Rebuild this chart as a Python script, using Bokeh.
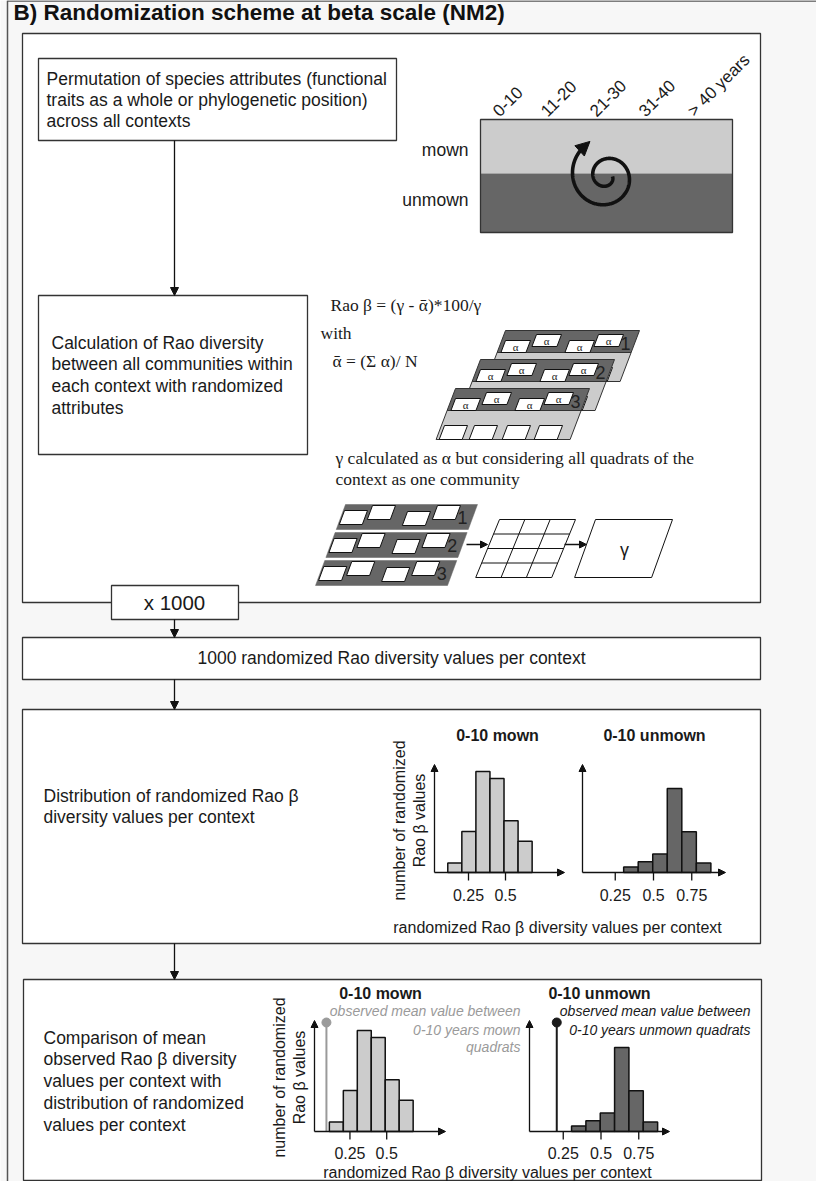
import numpy as np
from bokeh.plotting import figure
from bokeh.models import Range1d, Arrow, NormalHead
from bokeh.embed import file_html
from bokeh.resources import INLINE
from bokeh.core.properties import value

# ---------------- DATA ----------------
age_classes = ["0-10", "11-20", "21-30", "31-40", "> 40 years"]
management = ["mown", "unmown"]
mown_bin_edges = [0.11, 0.205, 0.30, 0.395, 0.49, 0.585, 0.68]
mown_counts = [29, 125, 307, 286, 157, 95]
unmown_bin_edges = [0.305, 0.40, 0.495, 0.59, 0.685, 0.78, 0.875]
unmown_counts = [17, 33, 56, 255, 124, 29]
mown_ticks = [0.25, 0.5]
unmown_ticks = [0.25, 0.5, 0.75]
observed_mean_mown = 0.09
observed_mean_unmown = 0.207
n_randomizations = 1000
sheet_labels = ["1", "2", "3"]

# ---------------- FIGURE ----------------
W, H = 816, 1181
X0, Y0 = 8, 8
BG = "#f7f7f7"
INK = "#1a1a1a"
LIGHT = "#cccccc"
DARK = "#666666"
SANS = "Liberation Sans"
SERIF = "Liberation Serif"
BODY = 17.5

p = figure(width=W, height=H, x_range=Range1d(X0, X0 + W), y_range=Range1d(Y0 + H, Y0),
           output_backend="svg", toolbar_location=None, x_axis_type=None, y_axis_type=None,
           min_border=0, background_fill_color=BG, border_fill_color=BG, outline_line_color=None)
p.grid.visible = False


def t(x, y, s, size=BODY, align="left", baseline="middle", font=SANS, style="normal",
      color=INK, angle=0.0, xr=None, yr=None):
    kw = {}
    if xr:
        kw["x_range_name"] = xr
        kw["y_range_name"] = yr
    xs = x if isinstance(x, list) else [x]
    ys = y if isinstance(y, list) else [y]
    ss = s if isinstance(s, list) else [s]
    p.text(x=xs, y=ys, text=ss, text_font=value(font), text_font_size=f"{size}px",
           text_align=align, text_baseline=baseline, text_font_style=style,
           text_color=color, angle=angle, **kw)


def box(l, r, tp, b, fill="white", lc="#333333", lw=1.3):
    p.quad(left=[l], right=[r], top=[tp], bottom=[b], fill_color=fill, line_color=lc, line_width=lw)


def arrow(x0, y0, x1, y1, size=8, lw=1.3, color="#111111"):
    p.add_layout(Arrow(end=NormalHead(size=size, fill_color=color, line_color=color, line_width=1),
                       x_start=x0, y_start=y0, x_end=x1, y_end=y1,
                       line_color=color, line_width=lw))


def para(xl, yt, w, h, s):
    return [xl, xl + w, xl + w - s * h, xl - s * h], [yt, yt, yt + h, yt + h]


def patch(xy, fill, lc="#222222", lw=1.0):
    p.patch(xy[0], xy[1], fill_color=fill, line_color=lc, line_width=lw)


# outer frame
p.segment(x0=[15], y0=[8.5], x1=[832], y1=[8.5], line_color="#555555", line_width=1.5)
p.segment(x0=[15], y0=[8], x1=[15], y1=[1189], line_color="#555555", line_width=1.5)

# title
t(21, 20, "B) Randomization scheme at beta scale (NM2)", size=22.5, style="bold", color="#111111")

# ---------------- BOX 1 ----------------
box(30, 768, 41, 610)
box(46, 404, 66, 148)
for i, line in enumerate(["Permutation of species attributes (functional",
                          "traits as a whole or phylogenetic position)",
                          "across all contexts"]):
    t(54, 86 + 21 * i, line)
arrow(182, 148, 182, 303)
box(46, 315, 303, 462)
for i, line in enumerate(["Calculation of Rao diversity",
                          "between all communities within",
                          "each context with randomized",
                          "attributes"]):
    t(59, 350 + 21.7 * i, line)

# context rectangle
p.quad(left=[488], right=[740], top=[127], bottom=[181], fill_color=LIGHT, line_color=None)
p.quad(left=[488], right=[740], top=[181], bottom=[240], fill_color=DARK, line_color=None)
p.quad(left=[488], right=[740], top=[127], bottom=[240], fill_color=None, line_color="#333333", line_width=1.3)
t(476, 157, management[0], align="right")
t(476, 207, management[1], align="right")
col_x = [503, 551, 600, 649, 698]
for cx, lab in zip(col_x, age_classes):
    t(cx, 121, lab, size=17, baseline="alphabetic", angle=np.pi / 4)

# spiral
phi = np.linspace(0, 10.45, 400)
rr = 6 + 2.1 * phi + 0.09 * phi ** 2
sx = 614 + rr * np.cos(phi)
sy = 184 + rr * np.sin(phi)
p.line(sx, sy, line_color="#111111", line_width=3.6)
arrow(sx[-8], sy[-8], sx[-1] + (sx[-1] - sx[-8]) * 0.6, sy[-1] + (sy[-1] - sy[-8]) * 0.6,
      size=14, lw=3.6)

# formulas
t(338, 312, "Rao \u03b2 = (\u03b3 - \u1fb1)*100/\u03b3", font=SERIF, size=17.5)
t(328, 340, "with", font=SERIF, size=17.5)
t(340, 368, "\u1fb1 = (\u03a3 \u03b1)/ N", font=SERIF, size=17.5)

# stacked sheets
S = 0.38
SW, HD, HL = 134, 22, 29
sheet_tl = [(513, 338), (488, 367), (463, 396)]
alpha_q = [(0, 10), (31, 4), (64, 10), (93, 4)]
bottom_q = [(-11, 37), (19, 37), (52, 37), (84, 37)]
for i, (x0, y0) in enumerate(sheet_tl):
    patch(para(x0 - S * HD, y0 + HD, SW, HL, S), LIGHT, "#333333", 1.0)
    patch(para(x0, y0, SW, HD, S), DARK, "#333333", 1.0)
    for (xl, yt) in alpha_q:
        patch(para(x0 + xl, y0 + yt, 25, 12, S), "white", "#111111", 1.0)
        t(x0 + xl + 12.5 - S * 6, y0 + yt + 6.5, "\u03b1", size=11, align="center", font=SERIF)
    for (xl, yt) in bottom_q:
        patch(para(x0 + xl, y0 + yt, 23, 14, S), "white", "#111111", 1.0)
    t(x0 + 120, y0 + 13, sheet_labels[i], size=18, align="center", color="#222222")

t(343, 465, "\u03b3 calculated as \u03b1 but considering all quadrats of the", font=SERIF, size=17.5)
t(343, 486, "context as one community", font=SERIF, size=17.5)

# gamma diagram
S2 = 0.37
strip_tl = [(353, 512), (353 - S2 * 28, 540), (353 - S2 * 56, 568)]
strip_q = [(-1, 6), (27, 1), (62, 7), (92, 1)]
for i, (x0, y0) in enumerate(strip_tl):
    patch(para(x0, y0, 132, 25, S2), DARK, DARK, 0.5)
    for (xl, yt) in strip_q:
        patch(para(x0 + xl, y0 + yt, 23, 14, S2), "white", "#111111", 1.0)
    t(x0 + 117, y0 + 13, sheet_labels[i], size=18, align="center", color="#222222")
arrow(474, 552, 495, 552, size=7, lw=1.6)
# grid
GS = 0.41
gx, gy, gw, gh = 507, 527, 76, 58
patch(para(gx, gy, gw, gh, GS), "white", "#111111", 1.0)
for k in range(1, 4):
    yy = gy + k * gh / 4
    p.segment(x0=[gx - GS * (yy - gy)], y0=[yy], x1=[gx + gw - GS * (yy - gy)], y1=[yy],
              line_color="#111111", line_width=1.0)
for j in range(1, 3):
    xx = gx + j * gw / 3
    p.segment(x0=[xx], y0=[gy], x1=[xx - GS * gh], y1=[gy + gh], line_color="#111111", line_width=1.0)
arrow(572, 552, 594, 552, size=7, lw=1.6)
patch(para(603, 527, 77, 58, 0.36), "white", "#111111", 1.0)
t(632, 557, "\u03b3", size=18, align="center")

# x 1000 box
box(119, 246, 593, 627)
t(182, 610, f"x {n_randomizations}", size=20.5, align="center")
arrow(182, 627, 182, 645)

# ---------------- BOX 2 ----------------
box(30, 768, 645, 687)
t(399, 665, f"{n_randomizations} randomized Rao diversity values per context", align="center")
arrow(182, 687, 182, 717)

# ---------------- BOX 3 ----------------
box(30, 768, 717, 951)
t(51, 803, "Distribution of randomized Rao \u03b2")
t(51, 824, "diversity values per context")
arrow(182, 951, 182, 987)

# ---------------- BOX 4 ----------------
box(31, 769, 987, 1188)
for i, line in enumerate(["Comparison of mean",
                          "observed Rao \u03b2 diversity",
                          "values per context with",
                          "distribution of randomized",
                          "values per context"]):
    t(51, 1045 + 21.8 * i, line)

PPC = 0.329  # pixels per count


def hist_panel(key, x0px, ppu, base, ytop, yax, xend, edges, counts, color, ticks, lab_off):
    xr, yr = key + "_x", key + "_y"
    p.extra_x_ranges[xr] = Range1d((X0 - x0px) / ppu, (X0 + W - x0px) / ppu)
    p.extra_y_ranges[yr] = Range1d(-(Y0 + H - base) / PPC, (base - Y0) / PPC)
    p.quad(left=edges[:-1], right=edges[1:], bottom=[0] * len(counts), top=counts,
           fill_color=color, line_color="#111111", line_width=1.5,
           x_range_name=xr, y_range_name=yr)
    arrow(yax, base, yax, ytop, size=7, lw=1.3)
    arrow(yax, base, xend, base, size=7, lw=1.3)
    n = len(ticks)
    p.segment(x0=ticks, x1=ticks, y0=[0] * n, y1=[-8 / PPC] * n, line_color="#111111",
              line_width=1.3, x_range_name=xr, y_range_name=yr)
    t(list(ticks), [-lab_off / PPC] * n, [f"{v:g}" for v in ticks], size=16, align="center",
      xr=xr, yr=yr)
    return xr, yr


# box 3 histograms
hist_panel("h3m", 439, 148, 880, 772, 442, 572, mown_bin_edges, mown_counts, LIGHT, mown_ticks, 22)
hist_panel("h3u", 584.5, 153, 880, 772, 590, 733, unmown_bin_edges, unmown_counts, DARK, unmown_ticks, 22)
t(505, 743, "0-10 mown", size=16, style="bold", align="center")
t(662, 743, "0-10 unmown", size=16, style="bold", align="center")
t(407, 828, "number of randomized", size=16, align="center", angle=np.pi / 2)
t(427, 828, "Rao \u03b2 values", size=16, align="center", angle=np.pi / 2)
t(565, 935, "randomized Rao \u03b2 diversity values per context", size=16, align="center")

# box 4 histograms
obs_y = 1030
xr, yr = hist_panel("h4m", 320.7, 147, 1139, 1028, 322, 453, mown_bin_edges, mown_counts, LIGHT, mown_ticks, 21)
p.segment(x0=[observed_mean_mown], x1=[observed_mean_mown], y0=[0], y1=[(1139 - obs_y) / PPC],
          line_color="#9a9a9a", line_width=2, x_range_name=xr, y_range_name=yr)
p.scatter(x=[observed_mean_mown], y=[(1139 - obs_y) / PPC], size=9, marker="circle",
          fill_color="#9a9a9a", line_color="#9a9a9a", x_range_name=xr, y_range_name=yr)
xr, yr = hist_panel("h4u", 533, 151, 1139, 1028, 537, 677, unmown_bin_edges, unmown_counts, DARK, unmown_ticks, 21)
p.segment(x0=[observed_mean_unmown], x1=[observed_mean_unmown], y0=[0], y1=[(1139 - obs_y) / PPC],
          line_color="#1a1a1a", line_width=2, x_range_name=xr, y_range_name=yr)
p.scatter(x=[observed_mean_unmown], y=[(1139 - obs_y) / PPC], size=9, marker="circle",
          fill_color="#1a1a1a", line_color="#1a1a1a", x_range_name=xr, y_range_name=yr)

t(388, 1001, "0-10 mown", size=16, style="bold", align="center")
t(607, 1001, "0-10 unmown", size=16, style="bold", align="center")
GRAY_T = "#9a9a9a"
t(528, 1018, "observed mean value between", size=14, style="italic", align="right", color=GRAY_T)
t(528, 1037, "0-10 years mown", size=14, style="italic", align="right", color=GRAY_T)
t(528, 1054, "quadrats", size=14, style="italic", align="right", color=GRAY_T)
t(758, 1018, "observed mean value between", size=14, style="italic", align="right")
t(758, 1037, "0-10 years unmown quadrats", size=14, style="italic", align="right")
t(287, 1085, "number of randomized", size=16, align="center", angle=np.pi / 2)
t(307, 1085, "Rao \u03b2 values", size=16, align="center", angle=np.pi / 2)
t(495, 1180, "randomized Rao \u03b2 diversity values per context", size=16, align="center")

open("out.html", "w").write(file_html(p, INLINE))
